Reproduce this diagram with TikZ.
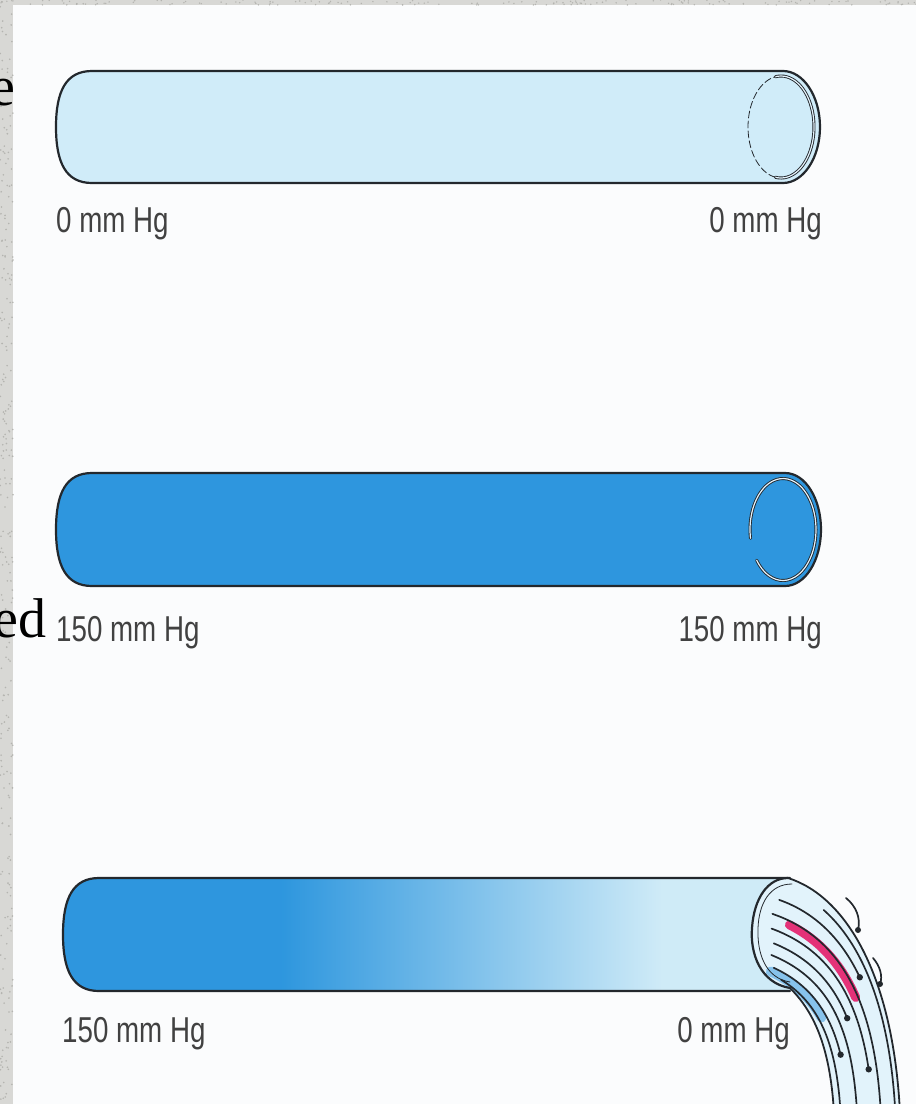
\documentclass[tikz,border=0pt]{standalone}
\usepackage{fontspec}
\setmainfont{Liberation Serif}
\newfontfamily\hgfont[FakeStretch=0.77]{Liberation Sans}
\usepackage{tikz}
\usetikzlibrary{calc}

% blue fading out towards the open end of the last tube
\pgfdeclarehorizontalshading{tubefade}{100bp}{rgb(0bp)=(0.18,0.59,0.87); rgb(40bp)=(0.18,0.59,0.87); rgb(66bp)=(0.81,0.92,0.97); rgb(100bp)=(0.81,0.92,0.97)}

\begin{document}
\begin{tikzpicture}[x=1pt, y=-1pt, line join=round, line cap=round,
    declare function={bez(\ka,\kb,\kc,\kd,\ks)=(1-\ks)*(1-\ks)*(1-\ks)*\ka+3*(1-\ks)*(1-\ks)*\ks*\kb+3*(1-\ks)*\ks*\ks*\kc+\ks*\ks*\ks*\kd;},
    tubeline/.style={draw=tubeink, line width=2.2pt},
    flowline/.style={draw=tubeink, line width=1.7pt},
    hglabel/.style={font=\hgfont\fontsize{36}{40}\selectfont, text=labelgray, inner sep=0pt},
    cutword/.style={font=\fontsize{56}{60}\selectfont, inner sep=0pt, anchor=base east}]

    % Define custom colors
    \definecolor{paper}{RGB}{251,252,253}
    \definecolor{strip}{RGB}{216,216,213}
    \definecolor{speck}{RGB}{180,180,176}
    \definecolor{tubeink}{RGB}{35,40,45}
    \definecolor{emptyblue}{RGB}{208,236,249}
    \definecolor{fullblue}{RGB}{46,150,222}
    \definecolor{rimwhite}{RGB}{228,242,251}
    \definecolor{jetpale}{RGB}{226,243,251}
    \definecolor{jetblue}{RGB}{135,195,236}
    \definecolor{jetpink}{RGB}{228,50,120}
    \definecolor{labelgray}{RGB}{65,65,65}

    \useasboundingbox (0,0) rectangle (916,1104);

    % =======================================================
    % PAPER AND TEXTURED MARGIN
    % =======================================================
    \fill[paper] (0,0) rectangle (916,1104);
    \fill[strip] (0,0) rectangle (13,1104);
    \fill[strip] (0,0) rectangle (916,5);
    \pgfmathsetseed{42}
    \foreach \i in {1,...,260} {
        \fill[speck] ({13*rnd},{1104*rnd}) circle (0.9);
    }
    \foreach \i in {1,...,160} {
        \fill[speck] ({916*rnd},{5*rnd}) circle (0.8);
    }

    % word ends running in from the left
    \node[cutword] (wordtop) at (16,105) {e};
    \node[cutword] (wordmid) at (47,637) {ed};

    % =======================================================
    % TOP TUBE (empty)
    % =======================================================
    \begin{scope}[yshift=-71pt]
        % 1. Body with round left end and elliptic right end
        \draw[tubeline, fill=emptyblue] (783,0) -- (92,0)
            .. controls (66,0) and (56,20) .. (56,56) .. controls (56,92) and (66,112) .. (92,112)
            -- (783,112) .. controls (803.4,112) and (820,86.7) .. (820,56)
            .. controls (820,25.3) and (803.4,0) .. (783,0) -- cycle;

        % 2. Rim of the open end
        \draw[tubeink, line width=0.9pt, double=rimwhite, double distance=1.2pt]
            plot[domain=-100:100, samples=40, smooth] ({781+33*cos(\x)},{56+51*sin(\x)});
        \draw[tubeink, line width=0.8pt, dash pattern=on 7pt off 3pt]
            plot[domain=100:260, samples=40, smooth] ({781+33*cos(\x)},{56+51*sin(\x)});

        % 3. Pressure labels
        \node[hglabel, anchor=base west] (emptyin) at (56,161) {0 mm Hg};
        \node[hglabel, anchor=base east] (emptyout) at (822,161) {0 mm Hg};
    \end{scope}

    % =======================================================
    % MIDDLE TUBE (full, closed)
    % =======================================================
    \begin{scope}[yshift=-473pt]
        % 1. Body
        \draw[tubeline, fill=fullblue] (785,0) -- (92,0)
            .. controls (66,0) and (56,20) .. (56,56.5) .. controls (56,93) and (66,113) .. (92,113)
            -- (785,113) .. controls (805.4,113) and (821,87.2) .. (821,56.5)
            .. controls (821,25.8) and (805.4,0) .. (785,0) -- cycle;

        % 2. Rim, open a little on the left
        \draw[tubeink, line width=0.9pt, double=rimwhite, double distance=1.2pt]
            plot[domain=170:503, samples=50, smooth] ({783+33*cos(\x)},{56.5+51*sin(\x)});

        % 3. Pressure labels
        \node[hglabel, anchor=base west] (fullin) at (56,168) {150 mm Hg};
        \node[hglabel, anchor=base east] (fullout) at (822,168) {150 mm Hg};
    \end{scope}

    % =======================================================
    % BOTTOM TUBE (open, pouring out)
    % =======================================================
    \begin{scope}[yshift=-878pt]
        % 1. Body fading from blue to pale
        \shade[shading=tubefade] (792,0) -- (99,0)
            .. controls (73,0) and (63,20) .. (63,56.5) .. controls (63,93) and (73,113) .. (99,113)
            -- (792,113) -- cycle;
        \draw[tubeline] (790,0) -- (99,0)
            .. controls (73,0) and (63,20) .. (63,56.5) .. controls (63,93) and (73,113) .. (99,113)
            -- (790,113);

        % 2. Jet leaving the open end
        \fill[jetpale] (788,0) .. controls (845,18) and (893,95) .. (900,235) -- (834,235)
            .. controls (830,165) and (812,132) .. (790,110)
            .. controls (760,105) and (750,75) .. (752,50)
            .. controls (754,20) and (768,0) .. (788,0) -- cycle;

        % 3. Coloured streaks inside the jet
        \foreach \t/\a/\b/\col/\w in {0.15/0.0/0.48/jetblue/10, 0.68/0.15/0.6/jetpink/9} {
            \pgfmathsetmacro{\xa}{790-150*\t*(1-\t)}
            \pgfmathsetmacro{\ya}{110-110*\t}
            \pgfmathsetmacro{\xb}{812+33*\t}
            \pgfmathsetmacro{\yb}{132-114*\t}
            \pgfmathsetmacro{\xc}{830+63*\t}
            \pgfmathsetmacro{\yc}{165-70*\t}
            \pgfmathsetmacro{\xd}{834+66*\t}
            \draw[\col, line width=\w pt] plot[variable=\u, domain=\a:\b, samples=24, smooth]
                ({bez(\xa,\xb,\xc,\xd,\u)},{bez(\ya,\yb,\yc,235,\u)});
        }

        % 4. Flow lines, some breaking into drops
        \foreach \t/\a/\b/\drop in {0.10/0.04/1/0, 0.22/0.06/0.74/1, 0.35/0.08/1/0, 0.47/0.10/0.63/1,
                                    0.59/0.08/0.86/1, 0.71/0.06/1/0, 0.83/0.05/0.56/1, 0.93/0.25/1/0} {
            \pgfmathsetmacro{\xa}{790-150*\t*(1-\t)}
            \pgfmathsetmacro{\ya}{110-110*\t}
            \pgfmathsetmacro{\xb}{812+33*\t}
            \pgfmathsetmacro{\yb}{132-114*\t}
            \pgfmathsetmacro{\xc}{830+63*\t}
            \pgfmathsetmacro{\yc}{165-70*\t}
            \pgfmathsetmacro{\xd}{834+66*\t}
            \draw[flowline] plot[variable=\u, domain=\a:\b, samples=24, smooth]
                ({bez(\xa,\xb,\xc,\xd,\u)},{bez(\ya,\yb,\yc,235,\u)});
            \ifnum\drop=1
                \fill[tubeink] ({bez(\xa,\xb,\xc,\xd,\b)},{bez(\ya,\yb,\yc,235,\b)}) circle (3.2);
            \fi
        }

        % 5. Jet edges and the rim
        \draw[tubeline, line width=1.8pt] (788,0) .. controls (845,18) and (893,95) .. (900,235);
        \draw[tubeline, line width=1.8pt] (790,110) .. controls (812,132) and (830,165) .. (834,235);
        \draw[tubeline] (790,110) .. controls (760,105) and (750,75) .. (752,50)
            .. controls (754,20) and (768,0) .. (788,0);
        \draw[tubeink, line width=0.8pt] (790,104) .. controls (765,100) and (757,75) .. (758,50)
            .. controls (759,25) and (770,6) .. (792,6);

        % splashes outside the jet
        \draw[flowline] (846,20) .. controls (856,28) and (861,40) .. (858,52);
        \fill[tubeink] (858,52) circle (3);
        \draw[flowline] (873,80) .. controls (880,88) and (883,98) .. (880,106);
        \fill[tubeink] (880,106) circle (3);

        % 6. Pressure labels
        \node[hglabel, anchor=base west] (openin) at (62,164) {150 mm Hg};
        \node[hglabel, anchor=base east] (openout) at (790,164) {0 mm Hg};
    \end{scope}

\end{tikzpicture}
\end{document}
